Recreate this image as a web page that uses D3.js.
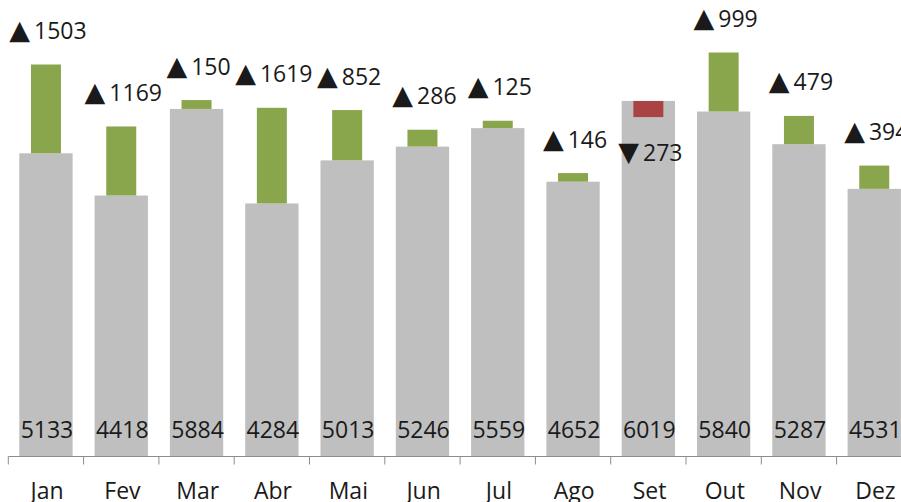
<!DOCTYPE html>
<html lang="pt">
<head>
    <meta charset="UTF-8">
    <title>Variação mensal</title>
    <script src="https://d3js.org/d3.v7.js"></script>
    <style>
        body { margin: 0; background: #fff; }
        text { font-family: "Open Sans", "Noto Sans", sans-serif; fill: #1a1a1a; }
    </style>
</head>
<body>
    <svg></svg>
    <script>
        const months = ["Jan", "Fev", "Mar", "Abr", "Mai", "Jun", "Jul", "Ago", "Set", "Out", "Nov", "Dez"];
        const values = [5133, 4418, 5884, 4284, 5013, 5246, 5559, 4652, 6019, 5840, 5287, 4531];
        const deltas = [1503, 1169, 150, 1619, 852, 286, 125, 146, -273, 999, 479, 394];

        const width = 901;
        const height = 502;
        const baseY = 456.5;
        const pxPerUnit = 0.05907;

        const data = months.map((m, i) => ({ month: m, value: values[i], delta: deltas[i] }));

        const svg = d3.select("svg")
            .attr("width", width)
            .attr("height", height);

        // band runs past the right edge, as in the original
        const x = d3.scaleBand()
            .domain(months)
            .range([8.3, 8.3 + 12 * 75.3])
            .paddingInner(0.292)
            .paddingOuter(0.146);

        const y = d3.scaleLinear()
            .domain([0, 8000])
            .range([baseY, baseY - 8000 * pxPerUnit]);

        const deltaWidth = 30;
        const cx = d => x(d.month) + x.bandwidth() / 2;

        // gray bars
        svg.selectAll(".bar")
            .data(data)
            .join("rect")
            .attr("class", "bar")
            .attr("x", d => x(d.month))
            .attr("y", d => y(d.value))
            .attr("width", x.bandwidth())
            .attr("height", d => y(0) - y(d.value))
            .style("fill", "#bfbfbf");

        // delta bars, from the value towards value + delta
        svg.selectAll(".delta")
            .data(data)
            .join("rect")
            .attr("class", "delta")
            .attr("x", d => cx(d) - deltaWidth / 2)
            .attr("y", d => y(Math.max(d.value, d.value + d.delta)))
            .attr("width", deltaWidth)
            .attr("height", d => Math.abs(y(d.value) - y(d.value + d.delta)))
            .style("fill", d => d.delta >= 0 ? "#8aa64d" : "#aa4444");

        // delta labels
        const lbl = svg.selectAll(".dlabel")
            .data(data)
            .join("text")
            .attr("class", "dlabel")
            .attr("x", d => cx(d) + 2)
            .attr("y", d => d.delta >= 0 ? y(d.value + d.delta) - 25.5 : y(d.value + d.delta) + 44)
            .attr("text-anchor", "middle")
            .style("font-size", "23px");
        lbl.append("tspan")
            .style("font-family", "DejaVu Sans")
            .style("font-size", "27px")
            .text(d => d.delta >= 0 ? "\u25B2" : "\u25BC");
        lbl.append("tspan")
            .attr("dx", 4)
            .text(d => Math.abs(d.delta));

        // values at the foot of the bars
        svg.selectAll(".vlabel")
            .data(data)
            .join("text")
            .attr("class", "vlabel")
            .attr("x", d => cx(d) + 1)
            .attr("y", 438)
            .attr("text-anchor", "middle")
            .style("font-size", "23px")
            .text(d => d.value);

        // axis: month labels at centres, tick marks on the band edges
        const axis = svg.append("g")
            .attr("transform", `translate(0,${baseY})`)
            .call(d3.axisBottom(x).tickSize(0).tickPadding(26));
        axis.select(".domain").remove();
        axis.selectAll("text")
            .attr("dx", "0.05em")
            .style("font-size", "23px")
            .style("font-family", "'Open Sans', sans-serif")
            .style("fill", "#1a1a1a");

        const edges = d3.range(months.length + 1).map(i => x.range()[0] + i * x.step());
        svg.append("line")
            .attr("x1", edges[0])
            .attr("x2", edges[edges.length - 1])
            .attr("y1", baseY)
            .attr("y2", baseY)
            .style("stroke", "#8c8c8c")
            .style("stroke-width", 1);
        svg.selectAll(".tick-edge")
            .data(edges)
            .join("line")
            .attr("class", "tick-edge")
            .attr("x1", d => d)
            .attr("x2", d => d)
            .attr("y1", baseY)
            .attr("y2", baseY + 8)
            .style("stroke", "#8c8c8c")
            .style("stroke-width", 1);
    </script>
</body>
</html>
